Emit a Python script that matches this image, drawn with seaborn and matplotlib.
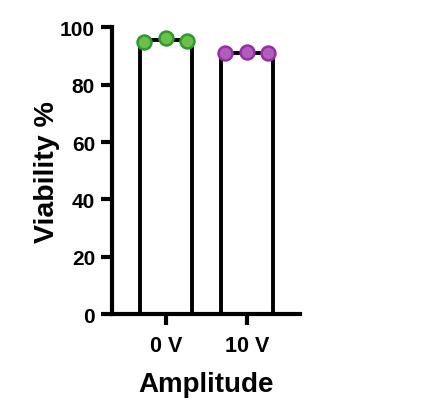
import pandas as pd
import matplotlib
matplotlib.use("Agg")
import matplotlib.pyplot as plt
import seaborn as sns

amplitudes = ["0 V", "10 V"]
viab_0v = [95.0, 96.4, 95.3]
viab_10v = [90.9, 91.4, 91.0]
replicates = ["r1", "r2", "r3"]

fill_colors = {"0 V": "#6cc04a", "10 V": "#b25cbc"}
edge_colors = {"0 V": "#2e9a2e", "10 V": "#9430a6"}

df = pd.DataFrame({
    "Amplitude": ["0 V"] * 3 + ["10 V"] * 3,
    "Viability": viab_0v + viab_10v,
    "rep": replicates * 2,
})

sns.set_style("ticks")
plt.rcParams["font.family"] = ["Liberation Sans", "DejaVu Sans"]
plt.rcParams["font.weight"] = "bold"
plt.rcParams["text.color"] = "black"
plt.rcParams["axes.labelcolor"] = "black"
plt.rcParams["xtick.color"] = "black"
plt.rcParams["ytick.color"] = "black"
plt.rcParams["axes.edgecolor"] = "black"

fig = plt.figure(figsize=(4.37, 4.10), dpi=100)
ax = fig.add_axes([0.2556, 0.2317, 0.431, 0.699])

sns.barplot(data=df, x="Amplitude", y="Viability", order=amplitudes,
            errorbar=None, width=0.64, color="white", edgecolor="black",
            linewidth=2.8, ax=ax, zorder=1)

for amp in amplitudes:
    sub = df[df["Amplitude"] == amp]
    sns.stripplot(data=sub, x="Amplitude", y="Viability", order=amplitudes,
                  hue="rep", dodge=True, jitter=False,
                  palette=[fill_colors[amp]] * 3, size=10,
                  edgecolor=edge_colors[amp], linewidth=1.8,
                  legend=False, ax=ax, zorder=3)

ax.set_ylim(0, 100)
ax.set_xlim(-0.668, 1.657)
ax.set_yticks([0, 20, 40, 60, 80, 100])
sns.despine(ax=ax)
for s in ["left", "bottom"]:
    ax.spines[s].set_linewidth(3)
ax.tick_params(axis="both", width=3, length=8, labelsize=15, pad=4)
ax.tick_params(axis="x", pad=7, labelsize=15.5)

ax.set_xlabel("Amplitude", fontsize=20, fontweight="bold", labelpad=11)
ax.set_ylabel("Viability %", fontsize=20.5, fontweight="bold", labelpad=0)

fig.savefig("out.png", dpi=100, facecolor="white")
